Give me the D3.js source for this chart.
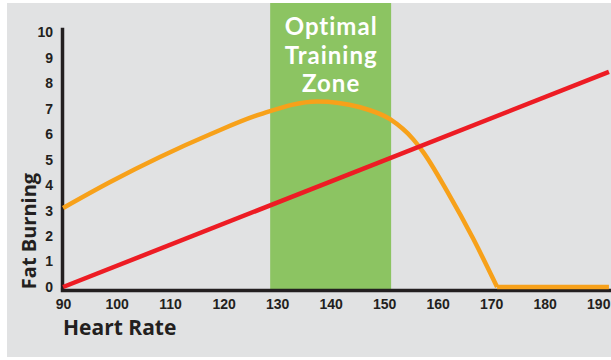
<!DOCTYPE html>
<html>
<head>
<meta charset="utf-8">
<script src="https://cdn.jsdelivr.net/npm/d3@7"></script>
<style>
  body { margin: 0; background: #fff; }
  svg { display: block; font-family: "Open Sans", sans-serif; }
  .axis text { font-size: 14px; font-weight: 700; fill: #231f20; }
  .axis .domain { stroke: #231f20; stroke-width: 3.5; stroke-linecap: square; }
</style>
</head>
<body>
<svg width="611" height="360"></svg>
<script>
// chart values
var xTicks = [90, 100, 110, 120, 130, 140, 150, 160, 170, 180, 190];
var yTicks = [0, 1, 2, 3, 4, 5, 6, 7, 8, 9, 10];

// fat burning curve (orange)
var fatHR = [90, 98.8, 108.1, 117.5, 126.8, 137.5, 145.5, 151.1, 155.4, 157.3, 161.8, 166.6, 171.1, 192];
var fatVal = [3.1, 4.12, 5.1, 5.99, 6.77, 7.28, 7.05, 6.58, 5.8, 5.29, 3.74, 1.91, 0, 0];

// straight rising line (red)
var redHR = [90, 192];
var redVal = [0, 8.44];

// optimal zone band
var zone = [128.7, 151.3];
var zoneLabel = ["Optimal", "Training", "Zone"];

// define margins and canvas
var svg = d3.select("svg"),
  margin = { top: 29, right: 1, bottom: 73, left: 62 },
  width = svg.attr("width") - margin.left - margin.right,
  height = svg.attr("height") - margin.top - margin.bottom;

// grey panel behind everything
svg.append("rect")
  .attr("x", 7).attr("y", 3)
  .attr("width", 604).attr("height", 354)
  .attr("fill", "#e1e2e3");

var g = svg.append("g")
  .attr("transform", "translate(" + margin.left + "," + margin.top + ")");

// define scales
var x = d3.scaleLinear().domain([89.8, 192.2]).range([0, width]),
  y = d3.scaleLinear().domain([0, 10.12]).range([height, 0]);

// green zone
g.append("rect")
  .attr("x", x(zone[0]))
  .attr("y", -26)
  .attr("width", x(zone[1]) - x(zone[0]))
  .attr("height", height + 26 + 2)
  .attr("fill", "#8cc462");

// one text per line so they stack cleanly
g.selectAll(".zonelabel")
  .data(zoneLabel)
  .join("text")
  .attr("class", "zonelabel")
  .attr("text-anchor", "middle")
  .attr("fill", "#fff")
  .style("font-family", "Lato, sans-serif")
  .style("font-size", "24px")
  .style("font-weight", 700)
  .style("letter-spacing", "1px")
  .attr("x", (x(zone[0]) + x(zone[1])) / 2 + 0.5)
  .attr("y", function(d, i) { return 6 + i * 28.5; })
  .text(function(d) { return d; });

// axes, no tick marks
g.append("g")
  .attr("class", "axis axisx")
  .attr("transform", "translate(0," + (height + 3) + ")")
  .call(d3.axisBottom(x).tickValues(xTicks).tickSize(0).tickPadding(9));

g.append("g")
  .attr("class", "axis axisy")
  .call(d3.axisLeft(y).tickValues(yTicks).tickSize(0).tickPadding(9));

// orange curve: smooth part, then flat along the bottom
var fat = fatHR.map(function(d, i) { return { hr: d, v: fatVal[i] }; });
var cut = fat.findIndex(function(d) { return d.v === 0; });

var smooth = d3.line()
  .x(function(d) { return x(d.hr); })
  .y(function(d) { return y(d.v); })
  .curve(d3.curveMonotoneX);

var straight = d3.line()
  .x(function(d) { return x(d.hr); })
  .y(function(d) { return y(d.v); });

g.append("path")
  .datum(fat.slice(0, cut + 1))
  .attr("d", smooth)
  .attr("fill", "none")
  .style("stroke", "#f7a11a")
  .style("stroke-width", 4.5);

g.append("path")
  .datum(fat.slice(cut))
  .attr("d", straight)
  .attr("fill", "none")
  .style("stroke", "#f7a11a")
  .style("stroke-width", 4.5);

// red line
var red = redHR.map(function(d, i) { return { hr: d, v: redVal[i] }; });
g.append("path")
  .datum(red)
  .attr("d", straight)
  .attr("fill", "none")
  .style("stroke", "#ed1c24")
  .style("stroke-width", 4.5);

// axis titles
svg.append("text")
  .attr("transform", "translate(36,231) rotate(-90)")
  .attr("text-anchor", "middle")
  .style("font-size", "20px")
  .style("font-weight", 700)
  .attr("fill", "#231f20")
  .text("Fat Burning");

svg.append("text")
  .attr("x", 63)
  .attr("y", 335)
  .style("font-size", "21px")
  .style("font-weight", 700)
  .attr("fill", "#231f20")
  .text("Heart Rate");
</script>
</body>
</html>
